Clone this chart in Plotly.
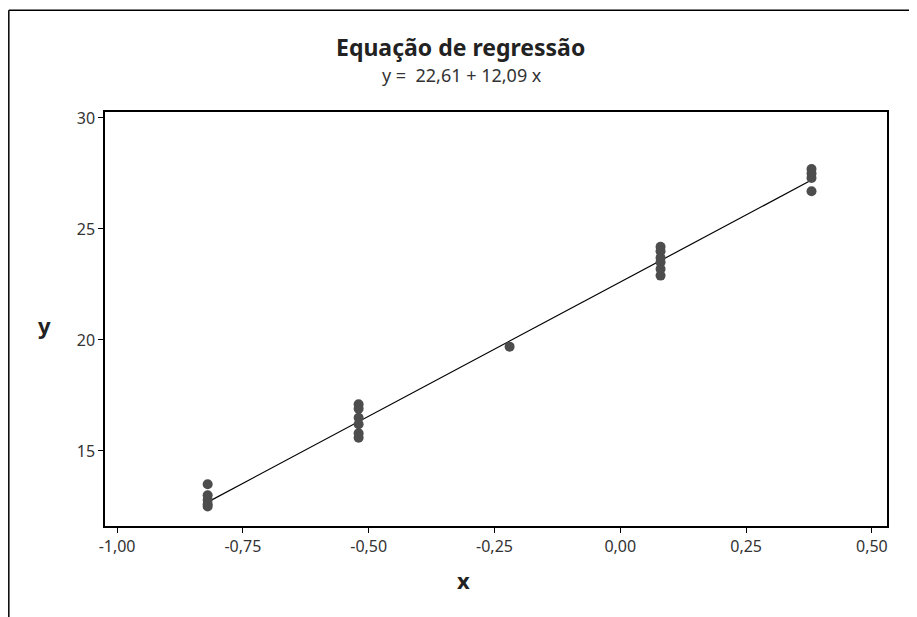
import plotly.graph_objects as go

x_vals = [-0.82, -0.82, -0.82, -0.82, -0.82,
          -0.52, -0.52, -0.52, -0.52, -0.52, -0.52,
          -0.22,
          0.08, 0.08, 0.08, 0.08, 0.08, 0.08,
          0.38, 0.38, 0.38, 0.38]
y_vals = [13.5, 13.0, 12.8, 12.6, 12.5,
          17.1, 16.9, 16.5, 16.2, 15.8, 15.6,
          19.7,
          24.2, 24.0, 23.7, 23.5, 23.2, 22.9,
          27.7, 27.5, 27.3, 26.7]

intercept = 22.61
slope = 12.09

x_ticks = [-1.0, -0.75, -0.5, -0.25, 0.0, 0.25, 0.5]
x_tick_labels = ["-1,00", "-0,75", "-0,50", "-0,25", "0,00", "0,25", "0,50"]
y_ticks = [15, 20, 25, 30]

FONT = "Noto Sans"

line_x = [min(x_vals), max(x_vals)]
line_y = [intercept + slope * v for v in line_x]

fig = go.Figure()
fig.add_trace(go.Scatter(
    x=line_x, y=line_y, mode="lines",
    line=dict(color="black", width=1.2), hoverinfo="skip"
))
fig.add_trace(go.Scatter(
    x=x_vals, y=y_vals, mode="markers",
    marker=dict(color="#4d4d4d", size=10, symbol="circle")
))

axis_common = dict(
    showgrid=False, zeroline=False, showline=True, mirror=True,
    linecolor="black", linewidth=1.5, ticks="outside", ticklen=5,
    tickcolor="black", tickfont=dict(family=FONT, size=16, color="#333333"),
)
fig.update_xaxes(range=[-1.024, 0.53], tickvals=x_ticks, ticktext=x_tick_labels, **axis_common)
fig.update_yaxes(range=[11.62, 30.27], tickvals=y_ticks, **axis_common)

fig.update_layout(
    width=917, height=617,
    margin=dict(l=97, r=38, t=104, b=99),
    paper_bgcolor="white", plot_bgcolor="white",
    showlegend=False,
    annotations=[
        dict(text="<b>Equação de regressão</b>", xref="paper", yref="paper",
             x=0.455, xanchor="center", y=1.158, yanchor="middle", showarrow=False,
             font=dict(family=FONT, size=23, color="#222222")),
        dict(text="y =&nbsp;&nbsp;22,61 + 12,09 x", xref="paper", yref="paper",
             x=0.456, xanchor="center", y=1.09, yanchor="middle", showarrow=False,
             font=dict(family=FONT, size=18, color="#333333")),
        dict(text="<b>x</b>", xref="paper", yref="paper",
             x=0.458, xanchor="center", y=-0.13, yanchor="middle", showarrow=False,
             font=dict(family=FONT, size=22, color="#222222")),
        dict(text="<b>y</b>", xref="paper", yref="paper",
             x=-0.077, xanchor="center", y=0.486, yanchor="middle", showarrow=False,
             font=dict(family=FONT, size=22, color="#222222")),
    ],
    shapes=[
        dict(type="line", xref="paper", yref="paper", x0=-0.123, x1=1.06, y0=1.246, y1=1.246,
             line=dict(color="black", width=1.5)),
        dict(type="line", xref="paper", yref="paper", x0=-0.123, x1=-0.123, y0=1.246, y1=-0.24,
             line=dict(color="black", width=1.5)),
    ],
)

fig.write_html("out.html")
